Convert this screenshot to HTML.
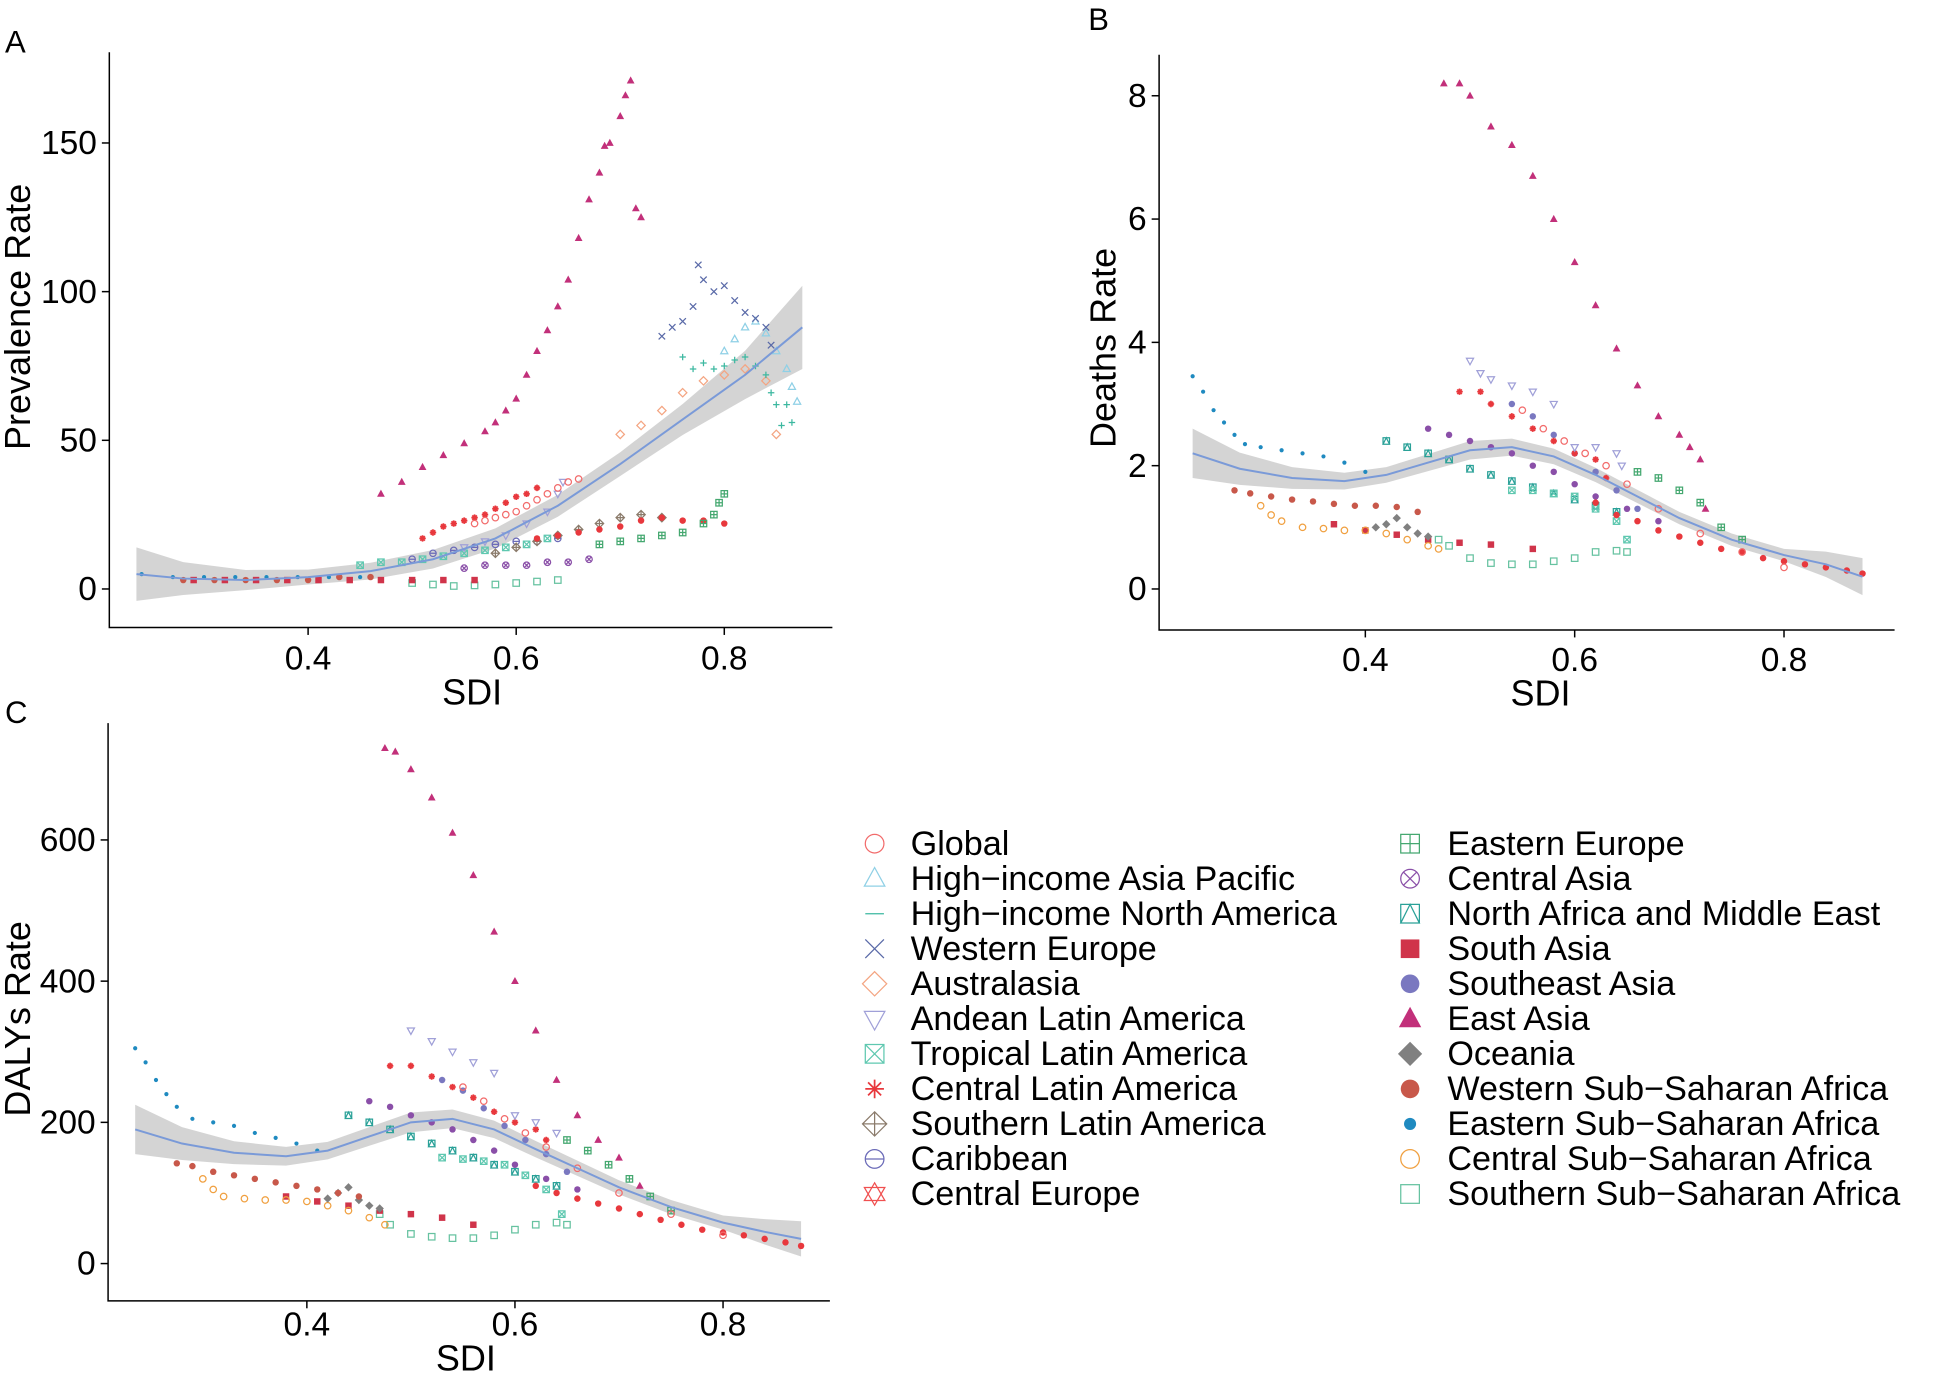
<!DOCTYPE html>
<html><head><meta charset="utf-8">
<style>
html,body{margin:0;padding:0;background:#fff;}
svg{display:block;}
text{font-family:"Liberation Sans",Arial,sans-serif;fill:#000;}
</style></head>
<body>
<svg id="fig" width="1948" height="1373" viewBox="0 0 1568 1105" xmlns="http://www.w3.org/2000/svg">
<g id="layer"></g>
</svg>
<script>
// ===== Data (SDI, value) =====
const eastAsiaA=[[0.47,32],[0.49,36],[0.51,41],[0.53,45],[0.55,49],[0.57,53],[0.58,56],[0.59,60],[0.60,64],[0.61,72],[0.62,80],[0.63,87],[0.64,95],[0.65,104],[0.66,118],[0.67,131],[0.68,140],[0.685,149],[0.69,150],[0.70,159],[0.705,166],[0.71,171],[0.715,128],[0.72,125]];
const westernEuropeA=[[0.74,85],[0.75,88],[0.76,90],[0.77,95],[0.775,109],[0.78,104],[0.79,100],[0.80,102],[0.81,97],[0.82,93],[0.83,91],[0.84,88],[0.845,82]];
const hiAsiaPacificA=[[0.80,80],[0.81,84],[0.82,88],[0.83,90],[0.84,86],[0.85,80],[0.86,74],[0.865,68],[0.87,63]];
const hiNorthAmericaA=[[0.76,78],[0.77,74],[0.78,76],[0.79,74],[0.80,75],[0.81,77],[0.82,78],[0.83,75],[0.84,72],[0.845,66],[0.85,62],[0.855,55],[0.86,62],[0.865,56]];
const australasiaA=[[0.70,52],[0.72,55],[0.74,60],[0.76,66],[0.78,70],[0.80,72],[0.82,74],[0.84,70],[0.85,52]];
const globalA=[[0.56,22],[0.57,23],[0.58,24],[0.59,25],[0.60,26],[0.61,28],[0.62,30],[0.63,32],[0.64,34],[0.65,36],[0.66,37]];
const centralLatinAmericaA=[[0.51,17],[0.52,19],[0.53,21],[0.54,22],[0.55,23],[0.56,24],[0.57,25],[0.58,27],[0.59,29],[0.60,31],[0.61,32],[0.62,34]];
const andeanA=[[0.55,14],[0.57,16],[0.59,18],[0.61,22],[0.63,26],[0.64,32],[0.645,36]];
const caribbeanA=[[0.50,10],[0.52,12],[0.54,13],[0.56,14],[0.58,15],[0.60,16],[0.62,16],[0.64,17]];
const southernLatinAmericaA=[[0.58,12],[0.60,14],[0.62,16],[0.64,18],[0.66,20],[0.68,22],[0.70,24],[0.72,25],[0.74,24]];
const easternEuropeA=[[0.68,15],[0.70,16],[0.72,17],[0.74,18],[0.76,19],[0.78,22],[0.79,25],[0.795,29],[0.80,32]];
const centralEuropeA=[[0.62,17],[0.64,18],[0.66,19],[0.68,20],[0.70,21],[0.72,23],[0.74,24],[0.76,23],[0.78,23],[0.80,22]];
const tropicalLatinAmericaA=[[0.45,8],[0.47,9],[0.49,9],[0.51,10],[0.53,11],[0.55,12],[0.57,13],[0.59,14],[0.61,15],[0.63,17]];
const centralAsiaA=[[0.55,7],[0.57,8],[0.59,8],[0.61,8],[0.63,9],[0.65,9],[0.67,10]];
const southAsiaA=[[0.29,3],[0.32,3],[0.35,3],[0.38,3],[0.41,3],[0.44,3],[0.47,3],[0.50,3],[0.53,3],[0.56,3]];
const southernSSAA=[[0.50,2],[0.52,1.5],[0.54,1],[0.56,1.2],[0.58,1.5],[0.60,2],[0.62,2.5],[0.64,3]];
const easternSSAA=[[0.24,5],[0.27,4],[0.30,4],[0.33,4],[0.36,4],[0.39,4],[0.42,4],[0.45,4]];
const westernSSAA=[[0.28,3],[0.31,3],[0.34,3],[0.37,3],[0.40,3],[0.43,4],[0.46,4]];
const smoothA=[[0.235,5],[0.28,3.5],[0.34,3],[0.40,4],[0.46,6],[0.52,10],[0.58,17],[0.64,28],[0.70,42],[0.76,57],[0.82,72],[0.875,88]];
const seA=[[0.235,9],[0.30,4],[0.40,2.5],[0.50,3],[0.60,3.5],[0.70,4],[0.80,6],[0.875,14]];

const eastAsiaB=[[0.475,8.2],[0.49,8.2],[0.50,8.0],[0.52,7.5],[0.54,7.2],[0.56,6.7],[0.58,6.0],[0.60,5.3],[0.62,4.6],[0.64,3.9],[0.66,3.3],[0.68,2.8],[0.70,2.5],[0.71,2.3],[0.72,2.1],[0.725,1.3]];
const easternSSAB=[[0.235,3.45],[0.245,3.2],[0.255,2.9],[0.265,2.7],[0.275,2.5],[0.285,2.35],[0.30,2.3],[0.32,2.25],[0.34,2.2],[0.36,2.15],[0.38,2.05],[0.40,1.9]];
const andeanB=[[0.50,3.7],[0.51,3.5],[0.52,3.4],[0.54,3.3],[0.56,3.2],[0.58,3.0],[0.60,2.3],[0.62,2.3],[0.64,2.2],[0.645,2.0]];
const centralLatinAmericaB=[[0.49,3.2],[0.51,3.2],[0.52,3.0],[0.54,2.8],[0.56,2.6],[0.58,2.4],[0.60,2.2],[0.62,2.1],[0.63,1.8]];
const globalB=[[0.55,2.9],[0.57,2.6],[0.59,2.4],[0.61,2.2],[0.63,2.0],[0.65,1.7],[0.68,1.3],[0.72,0.9],[0.76,0.6],[0.80,0.35]];
const southeastAsiaB=[[0.54,3.0],[0.56,2.8],[0.58,2.5],[0.60,2.2],[0.62,1.9],[0.64,1.6],[0.66,1.3]];
const centralAsiaB=[[0.46,2.6],[0.48,2.5],[0.50,2.4],[0.52,2.3],[0.54,2.2],[0.56,2.0],[0.58,1.9],[0.60,1.7],[0.62,1.5],[0.65,1.3],[0.68,1.1]];
const nameB=[[0.42,2.4],[0.44,2.3],[0.46,2.2],[0.48,2.1],[0.50,1.95],[0.52,1.85],[0.54,1.75],[0.56,1.65],[0.58,1.55],[0.60,1.45],[0.62,1.35],[0.64,1.25]];
const tropicalLatinAmericaB=[[0.54,1.6],[0.56,1.6],[0.58,1.55],[0.60,1.5],[0.62,1.3],[0.64,1.1],[0.65,0.8]];
const easternEuropeB=[[0.66,1.9],[0.68,1.8],[0.70,1.6],[0.72,1.4],[0.74,1.0],[0.76,0.8]];
const declineB=[[0.62,1.4],[0.64,1.2],[0.66,1.1],[0.68,0.95],[0.70,0.85],[0.72,0.75],[0.74,0.65],[0.76,0.6],[0.78,0.5],[0.80,0.45],[0.82,0.4],[0.84,0.35],[0.86,0.3],[0.875,0.25]];
const westernSSAB=[[0.275,1.6],[0.29,1.55],[0.31,1.5],[0.33,1.45],[0.35,1.42],[0.37,1.38],[0.39,1.35],[0.41,1.35],[0.43,1.33],[0.45,1.25]];
const southAsiaB=[[0.37,1.05],[0.40,0.95],[0.43,0.88],[0.46,0.8],[0.49,0.75],[0.52,0.72],[0.56,0.65]];
const centralSSAB=[[0.30,1.35],[0.31,1.2],[0.32,1.1],[0.34,1.0],[0.36,0.98],[0.38,0.95],[0.40,0.95],[0.42,0.9],[0.44,0.8],[0.46,0.7],[0.47,0.65]];
const oceaniaB=[[0.41,1.0],[0.42,1.05],[0.43,1.15],[0.44,1.0],[0.45,0.9],[0.46,0.85]];
const southernSSAB=[[0.47,0.8],[0.48,0.7],[0.50,0.5],[0.52,0.42],[0.54,0.4],[0.56,0.4],[0.58,0.45],[0.60,0.5],[0.62,0.6],[0.64,0.62],[0.65,0.6]];
const smoothB=[[0.235,2.2],[0.28,1.95],[0.33,1.8],[0.38,1.75],[0.42,1.85],[0.46,2.05],[0.50,2.25],[0.54,2.3],[0.58,2.15],[0.62,1.85],[0.66,1.5],[0.70,1.15],[0.75,0.8],[0.80,0.55],[0.84,0.4],[0.875,0.2]];
const seB=[[0.235,0.4],[0.30,0.2],[0.40,0.12],[0.50,0.15],[0.60,0.12],[0.70,0.1],[0.80,0.1],[0.875,0.3]];

const eastAsiaC=[[0.475,730],[0.485,725],[0.50,700],[0.52,660],[0.54,610],[0.56,550],[0.58,470],[0.60,400],[0.62,330],[0.64,260],[0.66,210],[0.68,175],[0.70,150],[0.72,110]];
const easternSSAC=[[0.235,305],[0.245,285],[0.255,260],[0.265,240],[0.275,222],[0.29,205],[0.31,200],[0.33,195],[0.35,185],[0.37,178],[0.39,170],[0.41,160]];
const andeanC=[[0.50,330],[0.52,315],[0.54,300],[0.56,285],[0.58,270],[0.60,210],[0.62,200],[0.64,185]];
const centralLatinAmericaC=[[0.48,280],[0.50,280],[0.52,265],[0.54,250],[0.56,235],[0.58,215],[0.60,200],[0.62,190],[0.63,175]];
const globalC=[[0.55,250],[0.57,230],[0.59,205],[0.61,185],[0.63,165],[0.66,135],[0.70,100],[0.75,70],[0.80,40]];
const southeastAsiaC=[[0.53,260],[0.55,245],[0.57,220],[0.59,195],[0.61,175],[0.63,155],[0.65,130]];
const centralAsiaC=[[0.46,230],[0.48,222],[0.50,210],[0.52,200],[0.54,190],[0.56,175],[0.58,160],[0.60,140],[0.63,120],[0.66,105]];
const nameC=[[0.44,210],[0.46,200],[0.48,190],[0.50,180],[0.52,170],[0.54,160],[0.56,150],[0.58,140],[0.60,130],[0.62,120],[0.64,110]];
const tropicalLatinAmericaC=[[0.53,150],[0.55,148],[0.57,145],[0.59,140],[0.61,125],[0.63,105],[0.645,70]];
const easternEuropeC=[[0.65,175],[0.67,160],[0.69,140],[0.71,120],[0.73,95],[0.75,75]];
const declineC=[[0.62,110],[0.64,100],[0.66,92],[0.68,85],[0.70,78],[0.72,70],[0.74,62],[0.76,55],[0.78,48],[0.80,44],[0.82,40],[0.84,35],[0.86,30],[0.875,25]];
const westernSSAC=[[0.275,142],[0.29,138],[0.31,130],[0.33,125],[0.35,120],[0.37,115],[0.39,110],[0.41,105],[0.43,100],[0.45,95]];
const southAsiaC=[[0.38,95],[0.41,88],[0.44,82],[0.47,75],[0.50,70],[0.53,65],[0.56,55]];
const centralSSAC=[[0.30,120],[0.31,105],[0.32,95],[0.34,92],[0.36,90],[0.38,90],[0.40,88],[0.42,82],[0.44,75],[0.46,65],[0.475,55]];
const oceaniaC=[[0.42,92],[0.43,100],[0.44,108],[0.45,90],[0.46,82],[0.47,78]];
const southernSSAC=[[0.47,70],[0.48,55],[0.50,42],[0.52,38],[0.54,36],[0.56,36],[0.58,40],[0.60,48],[0.62,55],[0.64,58],[0.65,55]];
const smoothC=[[0.235,190],[0.28,170],[0.33,157],[0.38,152],[0.42,160],[0.46,180],[0.50,200],[0.54,205],[0.58,190],[0.62,162],[0.66,135],[0.70,108],[0.75,80],[0.80,58],[0.84,45],[0.875,35]];
const seC=[[0.235,35],[0.30,18],[0.40,12],[0.50,14],[0.60,12],[0.70,10],[0.80,10],[0.875,25]];

const xTicks=[0.4,0.6,0.8];
const yTicksA=[0,50,100,150];
const yTicksB=[0,2,4,6,8];
const yTicksC=[0,200,400,600];

const legendLeft=["Global","High\u2212income Asia Pacific","High\u2212income North America","Western Europe","Australasia","Andean Latin America","Tropical Latin America","Central Latin America","Southern Latin America","Caribbean","Central Europe"];
const legendRight=["Eastern Europe","Central Asia","North Africa and Middle East","South Asia","Southeast Asia","East Asia","Oceania","Western Sub\u2212Saharan Africa","Eastern Sub\u2212Saharan Africa","Central Sub\u2212Saharan Africa","Southern Sub\u2212Saharan Africa"];

const C={global:"#f26b6b",hiap:"#8fd0e6",hina:"#3cb8a0",weu:"#5a6aa8",aus:"#f4a582",andean:"#a0a0d8",tla:"#5fc8b0",cla:"#e8383d",sla:"#8b7b6b",carib:"#6b6bb8",ceu:"#f05050",eeu:"#45a870",cas:"#8a4fa8",name:"#2aa198",sas:"#d0344a",sea:"#7a78c0",eas:"#c2307a",oce:"#808080",wssa:"#c8584a",essa:"#1f8ac0",cssa:"#f0a040",sssa:"#66c2a0"};
const legendLeftStyle=[["circle",C.global],["tri",C.hiap],["dash",C.hina],["x",C.weu],["diamond",C.aus],["tridown",C.andean],["sqx",C.tla],["star",C.cla],["diamplus",C.sla],["circplus",C.carib],["david",C.ceu]];
const legendRightStyle=[["sqplus",C.eeu],["circx",C.cas],["sqtri",C.name],["fsquare",C.sas],["fcircle",C.sea],["ftri",C.eas],["fdiamond",C.oce],["fcircle",C.wssa],["fdot",C.essa],["circle",C.cssa],["square",C.sssa]];

// ===== Drawing =====
const NS="http://www.w3.org/2000/svg";
const layer=document.getElementById('layer');
function el(tag,attrs,parent){const e=document.createElementNS(NS,tag);for(const k in attrs)e.setAttribute(k,attrs[k]);(parent||layer).appendChild(e);return e;}
function lin(d0,d1,p0,p1){return v=>p0+(v-d0)*(p1-p0)/(d1-d0);}

function marker(g,shape,col,x,y,s){
  const sw=1;
  if(shape==="circle")return el('circle',{cx:x,cy:y,r:s,fill:'none',stroke:col,'stroke-width':sw},g);
  if(shape==="fcircle")return el('circle',{cx:x,cy:y,r:s,fill:col},g);
  if(shape==="fdot")return el('circle',{cx:x,cy:y,r:s*0.65,fill:col},g);
  if(shape==="tri")return el('path',{d:`M${x},${y-s*1.2}L${x+s*1.1},${y+s*0.8}L${x-s*1.1},${y+s*0.8}Z`,fill:'none',stroke:col,'stroke-width':sw},g);
  if(shape==="ftri")return el('path',{d:`M${x},${y-s*1.3}L${x+s*1.2},${y+s*0.9}L${x-s*1.2},${y+s*0.9}Z`,fill:col},g);
  if(shape==="tridown")return el('path',{d:`M${x},${y+s*1.2}L${x+s*1.1},${y-s*0.8}L${x-s*1.1},${y-s*0.8}Z`,fill:'none',stroke:col,'stroke-width':sw},g);
  if(shape==="dash")return el('path',{d:`M${x-s},${y}H${x+s}`,stroke:col,'stroke-width':sw},g);
  if(shape==="x")return el('path',{d:`M${x-s},${y-s}L${x+s},${y+s}M${x-s},${y+s}L${x+s},${y-s}`,stroke:col,'stroke-width':sw},g);
  if(shape==="plus")return el('path',{d:`M${x-s},${y}H${x+s}M${x},${y-s}V${y+s}`,stroke:col,'stroke-width':sw},g);
  if(shape==="diamond")return el('path',{d:`M${x},${y-s*1.3}L${x+s*1.3},${y}L${x},${y+s*1.3}L${x-s*1.3},${y}Z`,fill:'none',stroke:col,'stroke-width':sw},g);
  if(shape==="fdiamond")return el('path',{d:`M${x},${y-s*1.3}L${x+s*1.3},${y}L${x},${y+s*1.3}L${x-s*1.3},${y}Z`,fill:col},g);
  if(shape==="diamplus")return el('path',{d:`M${x},${y-s*1.3}L${x+s*1.3},${y}L${x},${y+s*1.3}L${x-s*1.3},${y}ZM${x-s*1.3},${y}H${x+s*1.3}M${x},${y-s*1.3}V${y+s*1.3}`,fill:'none',stroke:col,'stroke-width':sw},g);
  if(shape==="square")return el('rect',{x:x-s,y:y-s,width:2*s,height:2*s,fill:'none',stroke:col,'stroke-width':sw},g);
  if(shape==="fsquare")return el('rect',{x:x-s,y:y-s,width:2*s,height:2*s,fill:col},g);
  if(shape==="sqx")return el('path',{d:`M${x-s},${y-s}h${2*s}v${2*s}h${-2*s}ZM${x-s},${y-s}L${x+s},${y+s}M${x-s},${y+s}L${x+s},${y-s}`,fill:'none',stroke:col,'stroke-width':sw},g);
  if(shape==="sqplus")return el('path',{d:`M${x-s},${y-s}h${2*s}v${2*s}h${-2*s}ZM${x-s},${y}H${x+s}M${x},${y-s}V${y+s}`,fill:'none',stroke:col,'stroke-width':sw},g);
  if(shape==="sqtri")return el('path',{d:`M${x-s},${y-s}h${2*s}v${2*s}h${-2*s}ZM${x},${y-s}L${x+s},${y+s}L${x-s},${y+s}Z`,fill:'none',stroke:col,'stroke-width':sw},g);
  if(shape==="circplus")return el('path',{d:`M${x-s},${y}a${s},${s} 0 1,0 ${2*s},0a${s},${s} 0 1,0 ${-2*s},0M${x-s},${y}H${x+s}`,fill:'none',stroke:col,'stroke-width':sw},g);
  if(shape==="circx"){const k=s*0.7;return el('path',{d:`M${x-s},${y}a${s},${s} 0 1,0 ${2*s},0a${s},${s} 0 1,0 ${-2*s},0M${x-k},${y-k}L${x+k},${y+k}M${x-k},${y+k}L${x+k},${y-k}`,fill:'none',stroke:col,'stroke-width':sw},g);}
  if(shape==="star")return el('path',{d:`M${x-s},${y}H${x+s}M${x},${y-s}V${y+s}M${x-s*0.7},${y-s*0.7}L${x+s*0.7},${y+s*0.7}M${x-s*0.7},${y+s*0.7}L${x+s*0.7},${y-s*0.7}`,stroke:col,'stroke-width':sw*1.4},g);
  if(shape==="david")return el('path',{d:`M${x},${y-s*1.2}L${x+s*1.1},${y+s*0.7}L${x-s*1.1},${y+s*0.7}ZM${x},${y+s*1.2}L${x+s*1.1},${y-s*0.7}L${x-s*1.1},${y-s*0.7}Z`,fill:'none',stroke:col,'stroke-width':sw},g);
}

function panel(cfg){
  const g=el('g',{});
  
  
  const X=lin(0.4,0.8,cfg.x04,cfg.x08), Y=lin(cfg.y0v,cfg.y1v,cfg.y0p,cfg.y1p);
  const up=[],lo=[];
  const seAt=v=>{const s=cfg.se;for(let i=0;i<s.length-1;i++){if(v<=s[i+1][0])return s[i][1]+(s[i+1][1]-s[i][1])*(v-s[i][0])/(s[i+1][0]-s[i][0]);}return s[s.length-1][1];};
  cfg.smooth.forEach(p=>{up.push([X(p[0]),Y(p[1]+seAt(p[0]))]);lo.push([X(p[0]),Y(p[1]-seAt(p[0]))]);});
  const band=el('path',{d:'M'+up.map(p=>p.join(',')).join('L')+'L'+lo.reverse().map(p=>p.join(',')).join('L')+'Z',fill:'#bdbdbd','fill-opacity':0.65},g);
  
  
  cfg.series.forEach(sr=>{
    const sg=el('g',{},g);
    
    
    sr[3].forEach(p=>marker(sg,sr[1],sr[2],X(p[0]),Y(p[1]),2.6));
  });
  const ln=el('path',{d:'M'+cfg.smooth.map(p=>X(p[0])+','+Y(p[1])).join('L'),fill:'none',stroke:'#7a9ad8','stroke-width':1.6},g);
  
  
  const ax=el('path',{d:`M${cfg.ax},${cfg.top}V${cfg.bot}H${cfg.right}`,fill:'none',stroke:'#000','stroke-width':1.2},g);
  
  
  xTicks.forEach(t=>{
    el('path',{d:`M${X(t)},${cfg.bot}v6`,stroke:'#000','stroke-width':1.2},g);
    const tx=el('text',{x:X(t),y:cfg.bot+cfg.tko,'text-anchor':'middle','font-size':27},g);tx.textContent=t.toFixed(1);
    
    
  });
  cfg.yTicks.forEach(t=>{
    el('path',{d:`M${cfg.ax},${Y(t)}h-6`,stroke:'#000','stroke-width':1.2},g);
    const ty=el('text',{x:cfg.ax-10,y:Y(t)+9,'text-anchor':'end','font-size':27},g);ty.textContent=t;
    
    
  });
  const xt=el('text',{x:cfg.xtx,y:cfg.bot+cfg.tto,'text-anchor':'middle','font-size':29},g);xt.textContent='SDI';
  
  
  const yt=el('text',{x:0,y:0,'text-anchor':'middle','font-size':29,transform:`translate(${cfg.ytx},${cfg.yty}) rotate(-90)`},g);yt.textContent=cfg.ytitle;
  
  
  const pl=el('text',{x:cfg.lx,y:cfg.ly,'font-size':25},g);pl.textContent=cfg.label;
  
  
}

panel({name:'panel-a-prevalence',x04:248,x08:583,y0v:0,y1v:150,y0p:474,y1p:115,ax:88,top:42,bot:505,right:670,yTicks:yTicksA,tko:34,tto:62,
  smooth:smoothA,se:seA,xtx:380,ytx:24,yty:255,ytitle:'Prevalence Rate',lx:4,ly:42,label:'A',
  series:[["southern-ssa",'square',C.sssa,southernSSAA],["south-asia",'fsquare',C.sas,southAsiaA],["eastern-ssa",'fdot',C.essa,easternSSAA],["western-ssa",'fcircle',C.wssa,westernSSAA],["central-asia",'circx',C.cas,centralAsiaA],["tropical-latin-america",'sqx',C.tla,tropicalLatinAmericaA],["caribbean",'circplus',C.carib,caribbeanA],["southern-latin-america",'diamplus',C.sla,southernLatinAmericaA],["central-europe",'fcircle',C.cla,centralEuropeA],["eastern-europe",'sqplus',C.eeu,easternEuropeA],["andean-latin-america",'tridown',C.andean,andeanA],["central-latin-america",'star',C.cla,centralLatinAmericaA],["global",'circle',C.global,globalA],["australasia",'diamond',C.aus,australasiaA],["hi-north-america",'plus',C.hina,hiNorthAmericaA],["hi-asia-pacific",'tri',C.hiap,hiAsiaPacificA],["western-europe",'x',C.weu,westernEuropeA],["east-asia",'ftri',C.eas,eastAsiaA]]});

panel({name:'panel-b-deaths',x04:1099,x08:1436,y0v:0,y1v:8,y0p:474,y1p:77,ax:933,top:44,bot:507,right:1525,yTicks:yTicksB,tko:33,tto:61,
  smooth:smoothB,se:seB,xtx:1240,ytx:898,yty:280,ytitle:'Deaths Rate',lx:876,ly:24,label:'B',
  series:[["southern-ssa",'square',C.sssa,southernSSAB],["south-asia",'fsquare',C.sas,southAsiaB],["central-ssa",'circle',C.cssa,centralSSAB],["oceania",'fdiamond',C.oce,oceaniaB],["western-ssa",'fcircle',C.wssa,westernSSAB],["eastern-ssa",'fdot',C.essa,easternSSAB],["north-africa-middle-east",'sqtri',C.name,nameB],["tropical-latin-america",'sqx',C.tla,tropicalLatinAmericaB],["central-asia",'fcircle',C.cas,centralAsiaB],["high-income-cluster",'fcircle',C.cla,declineB],["eastern-europe",'sqplus',C.eeu,easternEuropeB],["southeast-asia",'fcircle',C.sea,southeastAsiaB],["global",'circle',C.global,globalB],["central-latin-america",'star',C.cla,centralLatinAmericaB],["andean-latin-america",'tridown',C.andean,andeanB],["east-asia",'ftri',C.eas,eastAsiaB]]});

panel({name:'panel-c-dalys',x04:247,x08:582,y0v:0,y1v:600,y0p:1017,y1p:676,ax:87,top:582,bot:1047,right:668,yTicks:yTicksC,tko:28,tto:56,
  smooth:smoothC,se:seC,xtx:375,ytx:24,yty:820,ytitle:'DALYs  Rate',lx:4,ly:582,label:'C',
  series:[["southern-ssa",'square',C.sssa,southernSSAC],["south-asia",'fsquare',C.sas,southAsiaC],["central-ssa",'circle',C.cssa,centralSSAC],["oceania",'fdiamond',C.oce,oceaniaC],["western-ssa",'fcircle',C.wssa,westernSSAC],["eastern-ssa",'fdot',C.essa,easternSSAC],["north-africa-middle-east",'sqtri',C.name,nameC],["tropical-latin-america",'sqx',C.tla,tropicalLatinAmericaC],["central-asia",'fcircle',C.cas,centralAsiaC],["high-income-cluster",'fcircle',C.cla,declineC],["eastern-europe",'sqplus',C.eeu,easternEuropeC],["southeast-asia",'fcircle',C.sea,southeastAsiaC],["global",'circle',C.global,globalC],["central-latin-america",'star',C.cla,centralLatinAmericaC],["andean-latin-america",'tridown',C.andean,andeanC],["east-asia",'ftri',C.eas,eastAsiaC]]});

// Legend
const lg=el('g',{});


function legendCol(names,styles,sx,tx){
  names.forEach((n,i)=>{
    const y=679+i*28.2;
    const eg=el('g',{},lg);
    
    
    marker(eg,styles[i][0],styles[i][1],sx,y,7.5);
    const t=el('text',{x:tx,y:y+9,'font-size':27.5},eg);t.textContent=n;
  });
}
legendCol(legendLeft,legendLeftStyle,704,733);
legendCol(legendRight,legendRightStyle,1135,1165);
</script>
</body></html>
